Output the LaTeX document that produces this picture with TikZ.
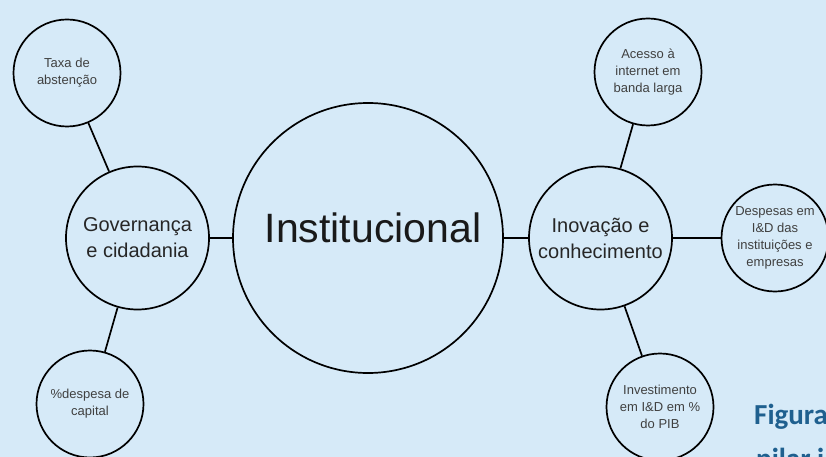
\documentclass[tikz,border=0pt]{standalone}
\usepackage{fontspec}
\setmainfont{Liberation Sans}
\newfontfamily\capfont{Carlito}
\usepackage{xcolor}
\usetikzlibrary{positioning}
\definecolor{bgblue}{RGB}{214,234,248}
\definecolor{capblue}{RGB}{31,96,143}

\begin{document}
\begin{tikzpicture}[x=1pt, y=-1pt, node distance=200pt,
    ring/.style={draw, circle, line width=1.7pt, inner sep=0pt, align=center},
    pillar/.style={ring, minimum size=270pt, font=\fontsize{41}{48}\selectfont, text=black!90},
    area/.style={ring, minimum size=143pt, font=\fontsize{20}{26}\selectfont, text=black!85},
    metric/.style={ring, minimum size=107pt, font=\fontsize{13}{17}\selectfont, text=black!75},
    figcap/.style={font=\capfont\bfseries\fontsize{29}{35}\selectfont, text=capblue, inner sep=0pt},
    link/.style={line width=1.7pt}]
    \useasboundingbox (0,0) rectangle (826,457);
    \fill[bgblue] (0,0) rectangle (826,457);
    \clip (0,0) rectangle (826,457);

    \node[pillar] (inst) at (368,238) {\raisebox{7pt}[22pt][0pt]{\hspace{10pt}Institucional}};
    \node[area, left of=inst, xshift=-30.5pt] (gov) {Governança\\e cidadania};
    \node[area, right of=inst, xshift=32.5pt] (inov) {Inovação e\\conhecimento};

    \node[metric, above of=gov, xshift=-70.5pt, yshift=-35pt] (taxa) {Taxa de\\abstenção};
    \node[metric, below of=gov, xshift=-47.5pt, yshift=34pt] (capital) {\%despesa de\\capital};
    \node[metric, above of=inov, xshift=47.5pt, yshift=-34pt] (acesso) {Acesso à\\internet em\\banda larga};
    \node[metric, right of=inov, xshift=-25.5pt] (idemp) {Despesas em\\I\&D das\\instituições e\\empresas};
    \node[metric, below of=inov, xshift=59.5pt, yshift=31pt] (invest) {Investimento\\em I\&D em \%\\do PIB};

    \draw[link] (gov) -- (inst);
    \draw[link] (inst) -- (inov);
    \draw[link] (taxa) -- (gov);
    \draw[link] (capital) -- (gov);
    \draw[link] (acesso) -- (inov);
    \draw[link] (inov) -- (idemp);
    \draw[link] (invest) -- (inov);

    \node[figcap, anchor=base west] (figa) at (754,424) {Figura};
    \node[figcap, anchor=base west] (figb) at (756,468) {pilar in};
\end{tikzpicture}
\end{document}
